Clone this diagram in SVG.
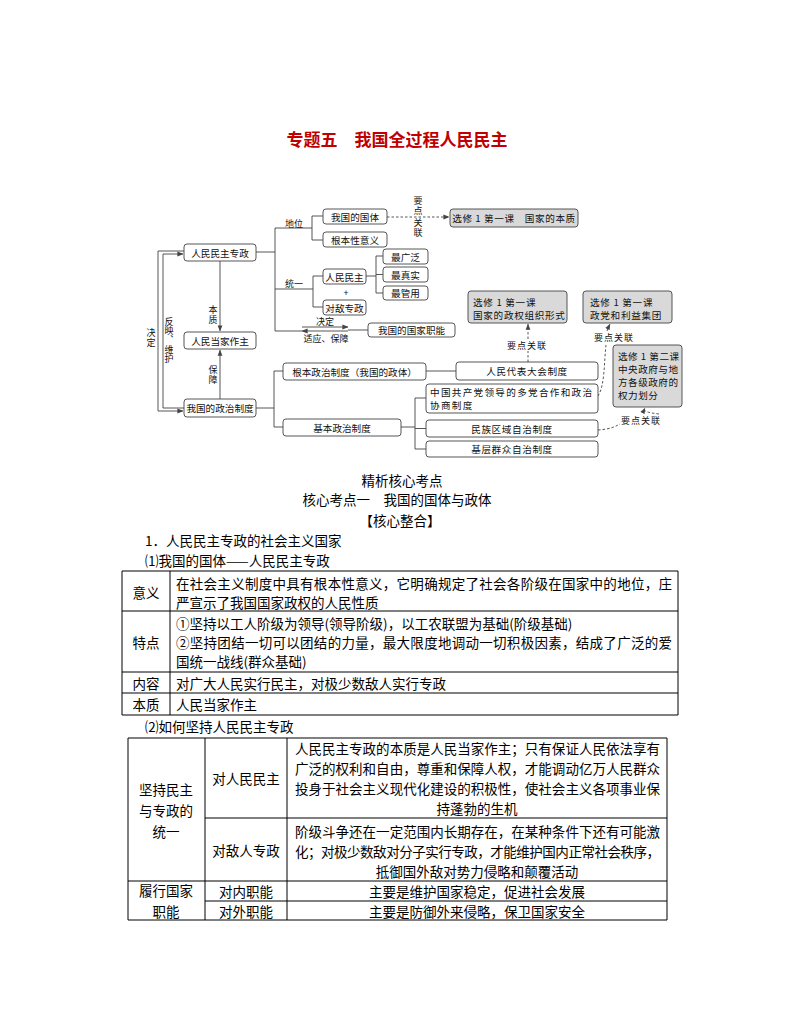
<svg xmlns="http://www.w3.org/2000/svg" width="794" height="1028" viewBox="0 0 794 1028">
<defs>
<style>
.bg{fill:#fff}
.box{fill:#fff;stroke:#444;stroke-width:0.9}
.gbox{fill:#d9d9d9;stroke:#444;stroke-width:0.9}
.ln{fill:none;stroke:#444;stroke-width:0.9}
.dl{fill:none;stroke:#444;stroke-width:0.9;stroke-dasharray:2.5 2}
.t{font-family:"Noto Sans CJK SC","Noto Sans",sans-serif;font-size:9.6px;fill:#111;text-anchor:middle;dominant-baseline:central}
.tl{font-family:"Noto Sans CJK SC","Noto Sans",sans-serif;font-size:9.6px;fill:#111;dominant-baseline:central}
.sm{font-family:"Noto Sans CJK SC","Noto Sans",sans-serif;font-size:9px;fill:#111;text-anchor:middle;dominant-baseline:central}
.v{font-family:"Noto Sans CJK SC","Noto Sans",sans-serif;font-size:9px;fill:#111;text-anchor:middle;writing-mode:vertical-rl}
.title{font-family:"Noto Sans CJK SC","Noto Sans",sans-serif;font-size:17px;font-weight:bold;fill:#c00000;text-anchor:middle;dominant-baseline:central}
.b{font-family:"Noto Sans CJK SC","Noto Sans",sans-serif;font-size:13.5px;fill:#000;dominant-baseline:central}
.bc{font-family:"Noto Sans CJK SC","Noto Sans",sans-serif;font-size:13.5px;fill:#000;dominant-baseline:central;text-anchor:middle}
.tb{fill:none;stroke:#000;stroke-width:1}
</style>
<marker id="ar" viewBox="0 0 8 8" refX="7.5" refY="4" markerWidth="6" markerHeight="6" orient="auto" markerUnits="userSpaceOnUse">
<path d="M0,0.8 L8,4 L0,7.2 z" fill="#444"/>
</marker>
</defs>
<rect class="bg" x="0" y="0" width="794" height="1028"/>

<text class="title" x="397" y="138">专题五　我国全过程人民民主</text>

<g id="connectors">
<path class="ln" d="M184,251 H158 V411 H183" marker-end="url(#ar)"/>
<path class="ln" d="M184,408 H163 V254 H183" marker-end="url(#ar)"/>
<path class="ln" d="M220,261 V331" marker-end="url(#ar)"/>
<path class="ln" d="M220,399 V350" marker-end="url(#ar)"/>
<path class="ln" d="M256,252 H275 M275,228 V331 M275,228 H312 M312,216 V240 M312,216 H323 M312,240 H323"/>
<path class="ln" d="M275,289 H313 M313,276 V307 M313,276 H323 M313,307 H323"/>
<path class="ln" d="M366,276 H376 M376,256 V293 M376,256 H383 M376,274.5 H383 M376,293 H383"/>
<path class="ln" d="M275,331 H302 M348,330 H368"/>
<path class="ln" d="M302,327 H348" marker-end="url(#ar)"/>
<path class="ln" d="M348,331 H302" marker-end="url(#ar)"/>
<path class="ln" d="M256,408 H274 M274,371 V427 M274,371 H283 M274,427 H283"/>
<path class="ln" d="M426,371 H456"/>
<path class="ln" d="M401,427 H415 M415,398 V449 M415,398 H426 M415,428.5 H426 M415,449 H426"/>
<path class="dl" d="M387,217 H449" marker-end="url(#ar)"/>
<path class="dl" d="M528,362 V351 M528,339 V324" marker-end="url(#ar)"/>
<path class="dl" d="M598,396 C605,385 604,362 606,345 M607,331 C608,328 609,326 610,324" marker-end="url(#ar)"/>
<path class="dl" d="M598,430 C612,429 616,426 620,424 M659,414 C642,412 644,410 645,408" marker-end="url(#ar)"/>
</g>

<g id="label-juedingleft"><text class="v" x="151" y="338" letter-spacing="1">决定</text></g>
<g id="label-fanying"><text class="v" x="169" y="340" letter-spacing="0.3">反映、维护</text></g>
<g id="label-benzhi"><text class="v" x="213" y="315" letter-spacing="1">本质</text></g>
<g id="label-baozhang"><text class="v" x="213" y="375" letter-spacing="1">保障</text></g>
<g id="label-diwei"><text class="sm" x="294" y="223">地位</text></g>
<g id="label-tongyi"><text class="sm" x="294" y="283">统一</text></g>
<g id="label-plus"><text class="sm" x="346" y="292">+</text></g>
<g id="label-jueding"><text class="sm" x="325" y="321">决定</text></g>
<g id="label-shiying"><text class="sm" x="326" y="338">适应、保障</text></g>
<g id="label-ydgl1"><text class="v" x="418" y="206" letter-spacing="0.5">要点</text><text class="v" x="418" y="228" letter-spacing="0.5">关联</text></g>
<g id="label-ydgl2"><text class="sm" x="527" y="345" letter-spacing="1">要点关联</text></g>
<g id="label-ydgl3"><text class="sm" x="614" y="337" letter-spacing="1">要点关联</text></g>
<g id="label-ydgl4"><text class="sm" x="641" y="420" letter-spacing="1">要点关联</text></g>

<g id="n-zhuanzheng"><rect class="box" x="184" y="244" width="72" height="17" rx="3"/><text class="t" x="220" y="252.5">人民民主专政</text></g>
<g id="n-dangjia"><rect class="box" x="184" y="332" width="72" height="17" rx="3"/><text class="t" x="220" y="340.5">人民当家作主</text></g>
<g id="n-zhengzhi"><rect class="box" x="184" y="399" width="72" height="18" rx="3"/><text class="t" x="220" y="408">我国的政治制度</text></g>
<g id="n-guoti"><rect class="box" x="323" y="209" width="64" height="15" rx="3"/><text class="t" x="355" y="216.5">我国的国体</text></g>
<g id="n-genben"><rect class="box" x="323" y="232" width="64" height="15" rx="3"/><text class="t" x="355" y="239.5">根本性意义</text></g>
<g id="n-renmin"><rect class="box" x="323" y="269" width="43" height="15" rx="3"/><text class="t" x="344.5" y="276.5">人民民主</text></g>
<g id="n-duidi"><rect class="box" x="323" y="300" width="43" height="15" rx="3"/><text class="t" x="344.5" y="307.5">对敌专政</text></g>
<g id="n-zuiguang"><rect class="box" x="383" y="249" width="45" height="15" rx="3"/><text class="t" x="405.5" y="256.5">最广泛</text></g>
<g id="n-zuizhen"><rect class="box" x="383" y="267" width="45" height="15" rx="3"/><text class="t" x="405.5" y="274.5">最真实</text></g>
<g id="n-zuiguan"><rect class="box" x="383" y="286" width="45" height="14" rx="3"/><text class="t" x="405.5" y="293">最管用</text></g>
<g id="n-zhineng"><rect class="box" x="368" y="323" width="87" height="14" rx="3"/><text class="t" x="411.5" y="330">我国的国家职能</text></g>
<g id="n-genbenzz"><rect class="box" x="283" y="363" width="143" height="17" rx="3"/><text class="t" x="354.5" y="371.5">根本政治制度（我国的政体）</text></g>
<g id="n-jibenzz"><rect class="box" x="283" y="419" width="118" height="17" rx="3"/><text class="t" x="342" y="427.5">基本政治制度</text></g>
<g id="n-renda"><rect class="box" x="456" y="362" width="142" height="18" rx="3"/><text class="t" x="527" y="371" letter-spacing="0.6">人民代表大会制度</text></g>
<g id="n-duodang"><rect class="box" x="426" y="384" width="172" height="29" rx="3"/><text class="tl" letter-spacing="1.3"><tspan x="430" y="392">中国共产党领导的多党合作和政治</tspan><tspan x="430" y="405">协商制度</tspan></text></g>
<g id="n-minzu"><rect class="box" x="426" y="420" width="172" height="17" rx="3"/><text class="t" x="512" y="428.5" letter-spacing="0.6">民族区域自治制度</text></g>
<g id="n-jiceng"><rect class="box" x="426" y="441" width="172" height="16" rx="3"/><text class="t" x="512" y="449" letter-spacing="0.6">基层群众自治制度</text></g>
<g id="n-g1"><rect class="gbox" x="450" y="209" width="128" height="18" rx="3"/><text class="t" x="514" y="218" letter-spacing="0.6">选修 1 第一课　国家的本质</text></g>
<g id="n-g2"><rect class="gbox" x="468" y="291" width="99" height="32" rx="3"/><text class="tl" letter-spacing="0.7"><tspan x="473" y="302">选修 1 第一课</tspan><tspan x="473" y="315">国家的政权组织形式</tspan></text></g>
<g id="n-g3"><rect class="gbox" x="583" y="291" width="89" height="32" rx="3"/><text class="tl" letter-spacing="0.7"><tspan x="590" y="302">选修 1 第一课</tspan><tspan x="590" y="315">政党和利益集团</tspan></text></g>
<g id="n-g4"><rect class="gbox" x="613" y="345" width="69" height="62" rx="3"/><text class="tl" letter-spacing="0.5"><tspan x="618" y="356">选修 1 第二课</tspan><tspan x="618" y="369">中央政府与地</tspan><tspan x="618" y="382">方各级政府的</tspan><tspan x="618" y="395">权力划分</tspan></text></g>

<g id="body-text">
<text class="bc" x="402" y="480">精析核心考点</text>
<text class="bc" x="397" y="499">核心考点一　我国的国体与政体</text>
<text class="bc" x="400" y="520">【核心整合】</text>
<text class="b" x="145" y="540">1．人民民主专政的社会主义国家</text>
<text class="b" x="145" y="560">⑴我国的国体——人民民主专政</text>
<text class="b" x="145" y="726">⑵如何坚持人民民主专政</text>
</g>

<g id="table1">
<path class="tb" d="M122,571 H678 V715 H122 Z M170,571 V715 M122,611 H678 M122,672 H678 M122,693 H678"/>
<text class="bc" x="146" y="592">意义</text>
<text class="b" x="176" y="583" textLength="496" lengthAdjust="spacing">在社会主义制度中具有根本性意义，它明确规定了社会各阶级在国家中的地位，庄</text>
<text class="b" x="176" y="602">严宣示了我国国家政权的人民性质</text>
<text class="bc" x="146" y="642">特点</text>
<text class="b" x="176" y="623">①坚持以工人阶级为领导(领导阶级)，以工农联盟为基础(阶级基础)</text>
<text class="b" x="176" y="642" textLength="496" lengthAdjust="spacing">②坚持团结一切可以团结的力量，最大限度地调动一切积极因素，结成了广泛的爱</text>
<text class="b" x="176" y="661">国统一战线(群众基础)</text>
<text class="bc" x="146" y="682.5">内容</text>
<text class="b" x="176" y="682.5">对广大人民实行民主，对极少数敌人实行专政</text>
<text class="bc" x="146" y="704">本质</text>
<text class="b" x="176" y="704">人民当家作主</text>
</g>

<g id="table2">
<path class="tb" d="M128,738 H667 V920 H128 Z M205,738 V920 M287,738 V920 M205,818 H667 M128,881 H667 M205,901 H667"/>
<text class="bc"><tspan x="166" y="789">坚持民主</tspan><tspan x="166" y="810">与专政的</tspan><tspan x="166" y="831">统一</tspan></text>
<text class="bc" x="246" y="778">对人民民主</text>
<text class="b" x="295" y="748" textLength="365" lengthAdjust="spacing">人民民主专政的本质是人民当家作主；只有保证人民依法享有</text>
<text class="b" x="295" y="768" textLength="365" lengthAdjust="spacing">广泛的权利和自由，尊重和保障人权，才能调动亿万人民群众</text>
<text class="b" x="295" y="788" textLength="365" lengthAdjust="spacing">投身于社会主义现代化建设的积极性，使社会主义各项事业保</text>
<text class="bc" x="477" y="808">持蓬勃的生机</text>
<text class="bc" x="246" y="850">对敌人专政</text>
<text class="b" x="295" y="831" textLength="365" lengthAdjust="spacing">阶级斗争还在一定范围内长期存在，在某种条件下还有可能激</text>
<text class="b" x="295" y="851" textLength="365" lengthAdjust="spacing">化；对极少数敌对分子实行专政，才能维护国内正常社会秩序，</text>
<text class="bc" x="477" y="871">抵御国外敌对势力侵略和颠覆活动</text>
<text class="bc"><tspan x="166" y="890">履行国家</tspan><tspan x="166" y="911">职能</tspan></text>
<text class="bc" x="246" y="891">对内职能</text>
<text class="bc" x="477" y="891">主要是维护国家稳定，促进社会发展</text>
<text class="bc" x="246" y="910.5">对外职能</text>
<text class="bc" x="477" y="910.5">主要是防御外来侵略，保卫国家安全</text>
</g>
</svg>
